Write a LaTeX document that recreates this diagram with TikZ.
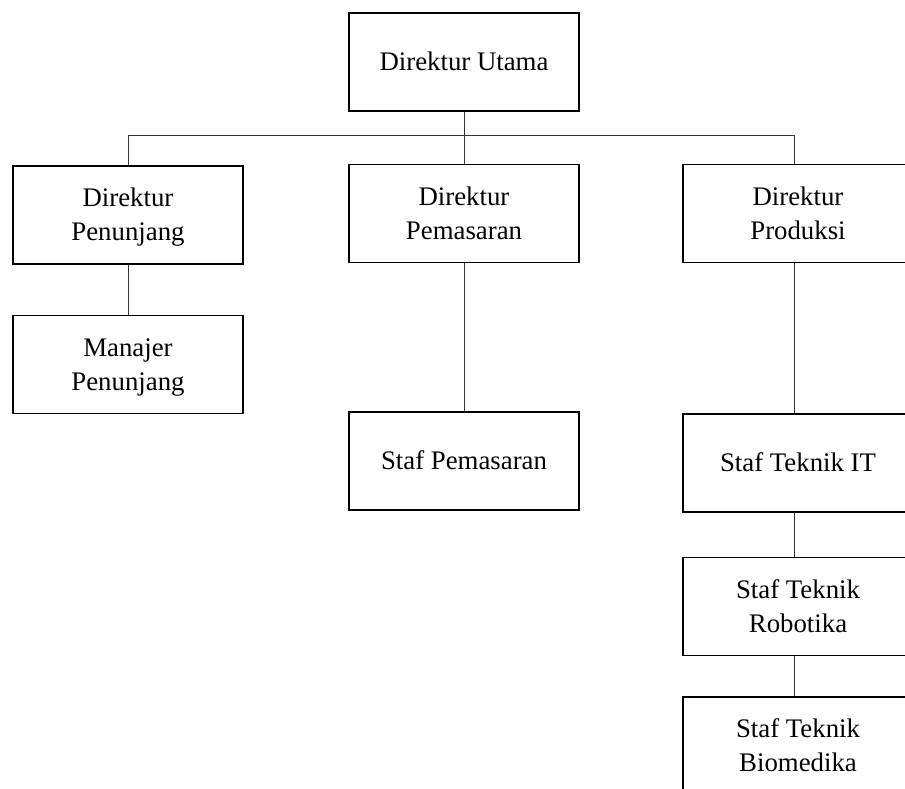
\documentclass[tikz,border=0pt]{standalone}
\usepackage{fontspec}
\setmainfont{Liberation Serif}
\newcommand\lstrut{\rule[-8.5pt]{0pt}{34pt}}
\begin{document}
\begin{tikzpicture}[x=1pt,y=-1pt,
  box/.style={draw=black,line width=1.8pt,minimum width=230pt,minimum height=98pt,inner sep=0pt,
    align=center,font=\fontsize{26.8}{34}\selectfont},
  conn/.style={draw=black!80,line width=0.9pt}]
\useasboundingbox (0,0) rectangle (905,788);
\node[box] (du) at (464,62) {\lstrut Direktur Utama};
\node[box] (dpen) at (128,215) {\lstrut Direktur\\\lstrut Penunjang};
\node[box] (dpem) at (464,213.5) {\lstrut Direktur\\\lstrut Pemasaran};
\node[box] (dpro) at (798,213.5) {\lstrut Direktur\\\lstrut Produksi};
\node[box] (mp) at (128,364.5) {\lstrut Manajer\\\lstrut Penunjang};
\node[box] (sp) at (464,461) {\lstrut Staf Pemasaran};
\node[box] (sit) at (798,463) {\lstrut Staf Teknik IT};
\node[box] (sr) at (798,606.5) {\lstrut Staf Teknik\\\lstrut Robotika};
\node[box] (sb) at (798,746) {\lstrut Staf Teknik\\\lstrut Biomedika};
\coordinate (rc) at (794,135);
\coordinate (hl) at (128,135);
\draw[conn] (du.south) -- (dpem.north);
\draw[conn] (dpen.north) -- (hl) -- (rc) -- (dpro.north -| rc);
\draw[conn] (dpen.south) -- (mp.north);
\draw[conn] (dpem.south) -- (sp.north);
\draw[conn] (dpro.south -| rc) -- (sit.north -| rc);
\draw[conn] (sit.south -| rc) -- (sr.north -| rc);
\draw[conn] (sr.south -| rc) -- (sb.north -| rc);
\end{tikzpicture}
\end{document}
